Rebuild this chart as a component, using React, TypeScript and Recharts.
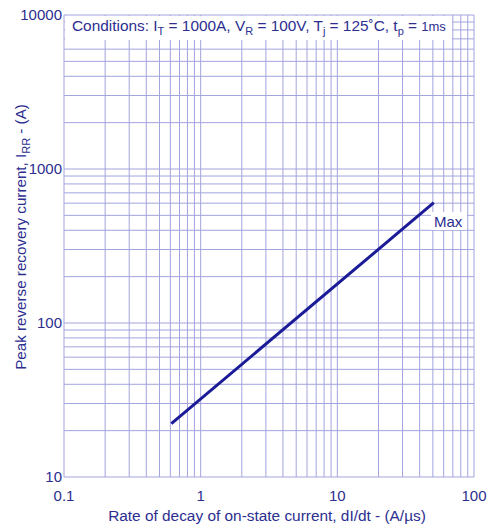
import React from "react";
import { LineChart, Line, XAxis, YAxis, ReferenceLine } from "recharts";

// Peak reverse recovery current vs dI/dt (log-log), "Max" curve
const rateValues = [0.61, 50.8];
const currentValues = [22.2, 604];

const xTicks = [0.1, 1, 10, 100];
const yTicks = [10, 100, 1000, 10000];
const mantissas = [1, 2, 3, 4, 5, 6, 7, 8, 9];

const data = rateValues.map((x, i) => ({ x, y: currentValues[i] }));

const xGrid = [0.1, 1, 10].flatMap((d) => mantissas.map((m) => +(m * d).toPrecision(3))).concat(100);
const yGrid = [10, 100, 1000].flatMap((d) => mantissas.map((m) => m * d)).concat(10000);

const TEXT = "#2c2e90";
const GRID = "#a3a4de";
const LINE = "#1b1b98";
const FONT = "Liberation Sans, Arial, Helvetica, sans-serif";

// annotations drawn on top of the grid
function Overlay() {
  return (
    <svg
      width={488}
      height={529}
      style={{ position: "absolute", left: 0, top: 0, pointerEvents: "none" }}
      fontFamily={FONT}
    >
      <rect x={65} y={16} width={387} height={24} fill="#fff" />
      <text x={72} y={31} fontSize={15.4} fill={TEXT}>
        Conditions: I
        <tspan fontSize={11} dy={4}>T</tspan>
        <tspan dy={-4}> = 1000A, V</tspan>
        <tspan fontSize={11} dy={4}>R</tspan>
        <tspan dy={-4}> = 100V, T</tspan>
        <tspan fontSize={11} dy={4}>j</tspan>
        <tspan dy={-4}> = 125˚C, t</tspan>
        <tspan fontSize={11} dy={4}>p</tspan>
        <tspan dy={-4}> = </tspan>
        <tspan fontSize={13}>1ms</tspan>
      </text>
      <rect x={431} y={212} width={36} height={18} fill="#fff" />
      <text x={434} y={227} fontSize={15} fill={TEXT}>Max</text>
      <text x={267} y={521} fontSize={15.4} fill={TEXT} textAnchor="middle">
        Rate of decay of on-state current, dI/dt - (A/µs)
      </text>
      <text x={26} y={237} fontSize={15.2} fill={TEXT} textAnchor="middle" transform="rotate(-90 26 237)">
        Peak reverse recovery current, I
        <tspan fontSize={11} dy={4}>RR</tspan>
        <tspan dy={-4}> - (A)</tspan>
      </text>
    </svg>
  );
}

export default function App() {
  return (
    <div style={{ position: "absolute", left: 0, top: 0, width: 488, height: 529, background: "#fff" }}>
      <LineChart width={488} height={529} data={data} margin={{ top: 15, right: 14, left: 0, bottom: 0 }}>
        <XAxis
          dataKey="x"
          type="number"
          scale="log"
          domain={[0.1, 100]}
          ticks={xTicks}
          allowDataOverflow
          height={52}
          tickLine={false}
          axisLine={false}
          tickSize={0}
          tickMargin={13}
          tick={{ fill: TEXT, fontSize: 15, fontFamily: FONT }}
          tickFormatter={(v) => String(v)}
        />
        <YAxis
          type="number"
          scale="log"
          domain={[10, 10000]}
          ticks={yTicks}
          allowDataOverflow
          width={64}
          tickLine={false}
          axisLine={false}
          tickSize={0}
          tickMargin={2}
          tick={{ fill: TEXT, fontSize: 15, fontFamily: FONT }}
        />
        {xGrid.map((v) => (
          <ReferenceLine key={"vx" + v} x={v} stroke={GRID} strokeWidth={1} />
        ))}
        {yGrid.map((v) => (
          <ReferenceLine key={"hy" + v} y={v} stroke={GRID} strokeWidth={1} />
        ))}
        <Line
          dataKey="y"
          type="linear"
          stroke={LINE}
          strokeWidth={3}
          dot={false}
          isAnimationActive={false}
        />
      </LineChart>
      <Overlay />
    </div>
  );
}
